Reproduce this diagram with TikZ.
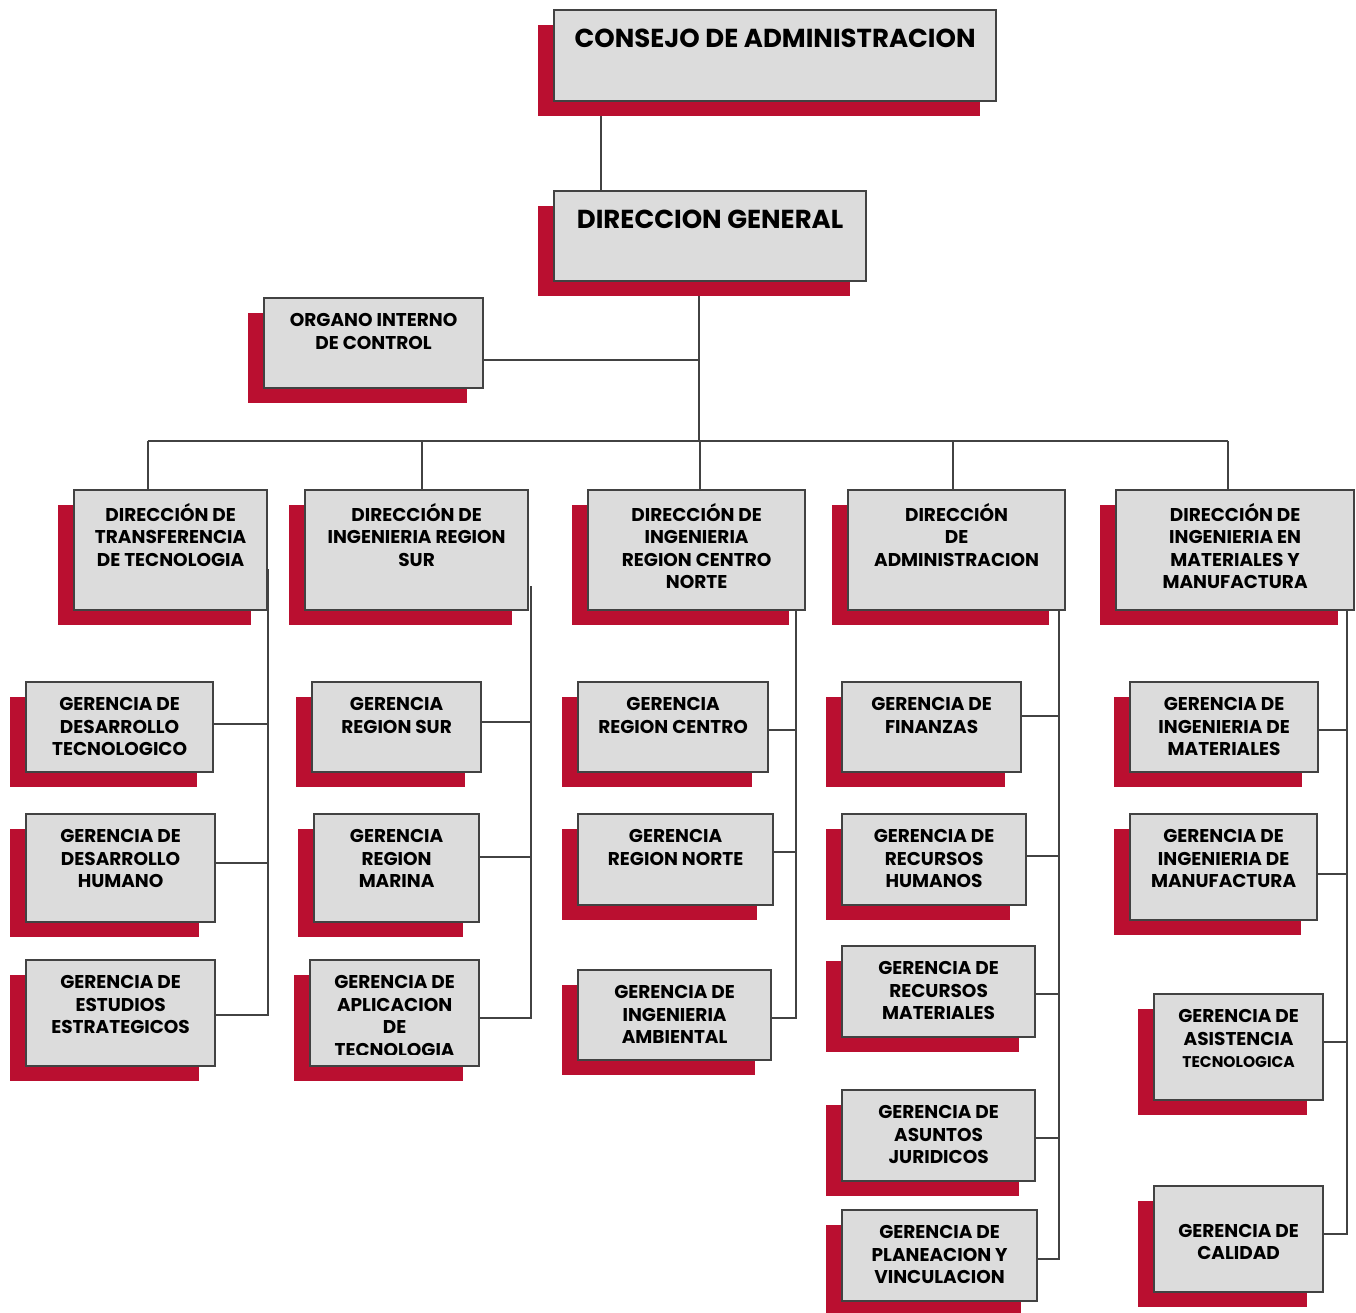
\documentclass[tikz,border=0pt]{standalone}
\usepackage{fontspec}
\setmainfont{Poppins}
\usepackage{xcolor}
\definecolor{shadowred}{RGB}{186,15,48}
\definecolor{boxgray}{RGB}{220,220,220}
\definecolor{linegray}{RGB}{66,66,66}
\pgfdeclarelayer{background}
\pgfsetlayers{background,main}
\tikzset{
  orgbox/.style={draw=linegray, line width=2.2pt, fill=boxgray, inner sep=0pt, anchor=north west},
  orgtext/.style={anchor=north, inner sep=0pt, align=center,
    font=\bfseries\fontsize{18.5}{22.5}\selectfont},
  bigtext/.style={orgtext, font=\bfseries\fontsize{26}{30}\selectfont},
  link/.style={draw=linegray, line width=2pt},
}

\begin{document}
\begin{tikzpicture}[x=1pt, y=-1pt]
  \useasboundingbox (0,0) rectangle (1356,1313);
  % top boxes
  \foreach \n/\xa/\ya/\xb/\yb/\txt in {consejo/553/9/995/100/{CONSEJO DE ADMINISTRACION},
      general/553/190/865/280/{DIRECCION GENERAL}} {
    \fill[shadowred] (\xa-15,\ya+16) rectangle (\xb-15,\yb+16);
    \node[orgbox, minimum width={\xb-\xa}, minimum height={\yb-\ya}] (\n) at (\xa,\ya) {};
    \node[bigtext] (\n-t) at ([yshift=-17pt]\n.north) {\strut\txt};
  }
  % direcciones and gerencias
  \foreach \n/\xa/\ya/\xb/\yb/\txt in {
      organo/263/297/482/387/{ORGANO INTERNO\\DE CONTROL},
      dtt/73/489/266/609/{DIRECCIÓN DE\\TRANSFERENCIA\\DE TECNOLOGIA},
      dsur/304/489/527/609/{DIRECCIÓN DE\\INGENIERIA REGION\\SUR},
      dcn/587/489/804/609/{DIRECCIÓN DE\\INGENIERIA\\REGION CENTRO\\NORTE},
      dadm/847/489/1064/609/{DIRECCIÓN\\DE\\ADMINISTRACION},
      dmm/1115/489/1353/609/{DIRECCIÓN DE\\INGENIERIA EN\\MATERIALES Y\\MANUFACTURA},
      gdt/25/681/212/771/{GERENCIA DE\\DESARROLLO\\TECNOLOGICO},
      gdh/25/813/214/921/{GERENCIA DE\\DESARROLLO\\HUMANO},
      gee/25/959/214/1065/{GERENCIA DE\\ESTUDIOS\\ESTRATEGICOS},
      grs/311/681/480/771/{GERENCIA\\REGION SUR},
      grm/313/813/478/921/{GERENCIA\\REGION\\MARINA},
      gat/309/959/478/1065/{},
      grc/577/681/767/771/{GERENCIA\\REGION CENTRO},
      grn/577/813/772/904/{GERENCIA\\REGION NORTE},
      gia/577/969/770/1059/{GERENCIA DE\\INGENIERIA\\AMBIENTAL},
      gfi/841/681/1020/771/{GERENCIA DE\\FINANZAS},
      grh/841/813/1025/904/{GERENCIA DE\\RECURSOS\\HUMANOS},
      grma/841/945/1034/1036/{GERENCIA DE\\RECURSOS\\MATERIALES},
      gaj/841/1089/1034/1180/{GERENCIA DE\\ASUNTOS\\JURIDICOS},
      gpv/841/1209/1036/1300/{GERENCIA DE\\PLANEACION Y\\VINCULACION},
      gim/1129/681/1317/771/{GERENCIA DE\\INGENIERIA DE\\MATERIALES},
      gif/1129/813/1316/919/{GERENCIA DE\\INGENIERIA DE\\MANUFACTURA},
      gas/1153/993/1322/1099/{GERENCIA DE\\ASISTENCIA\\{\fontsize{15.5}{20}\selectfont TECNOLOGICA}},
      gca/1153/1185/1322/1291/{\\GERENCIA DE\\CALIDAD}} {
    \fill[shadowred] (\xa-15,\ya+16) rectangle (\xb-15,\yb+16);
    \node[orgbox, minimum width={\xb-\xa}, minimum height={\yb-\ya}] (\n) at (\xa,\ya) {};
    \node[orgtext] (\n-t) at ([yshift=-14pt]\n.north) {\strut\txt};
  }
  % text cut off at the bottom of its box
  \begin{scope}
    \clip (gat.north west) rectangle ([yshift=13pt]gat.south east);
    \node[orgtext] (gat-t) at ([yshift=-14pt]gat.north) {\strut GERENCIA DE\\APLICACION\\DE\\TECNOLOGIA};
  \end{scope}

  \begin{pgfonlayer}{background}
    \coordinate (hub) at (699,441);
    \draw[link] ([xshift=48pt]general.north west) -- ([xshift=48pt]general.north west |- consejo.south);
    \draw[link] (general.south -| hub) -- (hub);
    \draw[link] ([yshift=-17pt]organo.east) -- ([yshift=-17pt]organo.east -| hub);
    \draw[link] ([xshift=-23pt]dtt.north |- hub) -- ([xshift=-7pt]dmm.north |- hub);
    \foreach \n/\s in {dtt/-23, dsur/5, dcn/3, dadm/-4, dmm/-7}
      \draw[link] ([xshift=\s pt]\n.north) -- ([xshift=\s pt]\n.north |- hub);
    % trunks down each column
    \coordinate (t1) at ([yshift=-19pt]dtt.east);
    \coordinate (t2) at ([xshift=2pt,yshift=-36pt]dsur.east);
    \coordinate (t3) at ([xshift=-10pt]dcn.south east);
    \coordinate (t4) at ([xshift=-7pt]dadm.south east);
    \coordinate (t5) at ([xshift=-8pt]dmm.south east);
    \foreach \t/\g/\dy in {t1/gee/-2, t2/gat/-5, t3/gia/-3, t4/gpv/-3, t5/gca/5}
      \draw[link] (\t) |- ([yshift=\dy pt]\g.east);
    \foreach \g/\t/\dy in {gdt/t1/3, gdh/t1/5, grs/t2/5, grm/t2/11, grc/t3/-3, grn/t3/8,
        gfi/t4/11, grh/t4/4, grma/t4/-2, gaj/t4/-2, gim/t5/-3, gif/t5/-7, gas/t5/5}
      \draw[link] ([yshift=\dy pt]\g.east) -- ([yshift=\dy pt]\g.east -| \t);
  \end{pgfonlayer}
\end{tikzpicture}
\end{document}
